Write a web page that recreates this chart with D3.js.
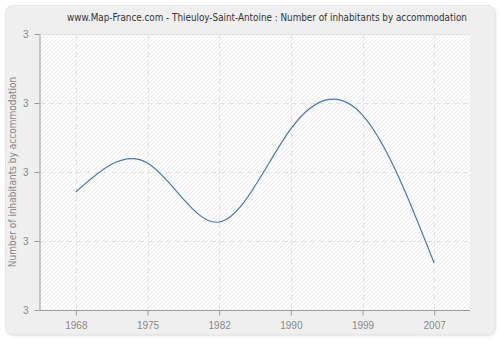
<!DOCTYPE html>
<html>
<head>
<meta charset="utf-8">
<script src="https://cdn.jsdelivr.net/npm/d3@7"></script>
<style>
  body { margin: 0; background: #fff; }
  svg { display: block; font-family: "DejaVu Sans Condensed", "DejaVu Sans", sans-serif; }
</style>
</head>
<body>
<div id="chart"></div>
<script>
const width = 500;
const height = 340;
const margin = {top: 34, right: 30, bottom: 30, left: 40};

const years = ["1968", "1975", "1982", "1990", "1999", "2007"];
const values = [2.942, 3.026, 2.855, 3.125, 3.165, 2.736];
const yTicks = [2.6, 2.8, 3.0, 3.2, 3.4];

const svg = d3.create("svg")
    .attr("width", width)
    .attr("height", height);

const defs = svg.append("defs");
const pattern = defs.append("pattern")
    .attr("id", "hatch")
    .attr("patternUnits", "userSpaceOnUse")
    .attr("width", 4)
    .attr("height", 4);
pattern.append("rect").attr("width", 4).attr("height", 4).attr("fill", "#fdfdfd");
pattern.append("path")
    .attr("d", "M-1,1 l2,-2 M0,4 l4,-4 M3,5 l2,-2")
    .attr("stroke", "#ececec")
    .attr("stroke-width", 1);

const shadow = defs.append("filter").attr("id", "shadow");
shadow.append("feDropShadow")
    .attr("dx", 1).attr("dy", 1).attr("stdDeviation", 1)
    .attr("flood-color", "#000").attr("flood-opacity", 0.12);

// panel
svg.append("rect")
    .attr("x", 5.5).attr("y", 5.5)
    .attr("width", 489).attr("height", 329)
    .attr("rx", 7)
    .attr("fill", "#efefef")
    .attr("stroke", "#e6e6e6")
    .attr("filter", "url(#shadow)");

const x = d3.scalePoint()
    .domain(years)
    .range([margin.left, width - margin.right])
    .padding(0.5);

const y = d3.scaleLinear()
    .domain([2.6, 3.4])
    .range([height - margin.bottom, margin.top]);

svg.append("rect")
    .attr("x", margin.left).attr("y", margin.top)
    .attr("width", width - margin.right - margin.left)
    .attr("height", height - margin.bottom - margin.top)
    .attr("fill", "url(#hatch)");

// grid
svg.append("g")
    .selectAll("line")
    .data(yTicks.slice(1))
    .join("line")
    .attr("x1", margin.left).attr("x2", width - margin.right)
    .attr("y1", d => Math.round(y(d)) + 0.5).attr("y2", d => Math.round(y(d)) + 0.5)
    .attr("stroke", "#e2e2e2")
    .attr("stroke-dasharray", d => d === 3.4 ? null : "5,4");

svg.append("g")
    .selectAll("line")
    .data(years)
    .join("line")
    .attr("x1", d => Math.round(x(d)) + 0.5).attr("x2", d => Math.round(x(d)) + 0.5)
    .attr("y1", margin.top).attr("y2", height - margin.bottom)
    .attr("stroke", "#e2e2e2")
    .attr("stroke-dasharray", "5,4");

// axes
const xAxis = svg.append("g")
    .attr("transform", `translate(0,${height - margin.bottom + 0.5})`)
    .call(d3.axisBottom(x).tickSize(5).tickSizeOuter(0).tickPadding(6));

const yAxis = svg.append("g")
    .attr("transform", `translate(${margin.left - 0.5},0)`)
    .call(d3.axisLeft(y).tickValues(yTicks).tickFormat(d3.format(".0f")).tickSize(5).tickSizeOuter(0).tickPadding(6));

[xAxis, yAxis].forEach(g => {
    g.select(".domain").attr("stroke", "#999");
    g.selectAll(".tick line").attr("stroke", "#999");
    g.selectAll(".tick text").attr("fill", "#888").attr("font-size", "10px");
});
xAxis.select(".domain").attr("d", `M${margin.left},0H${width - margin.right}`);

// line
const line = d3.line()
    .x((d, i) => x(years[i]))
    .y(d => y(d))
    .curve(d3.curveNatural);

svg.append("path")
    .datum(values)
    .attr("fill", "none")
    .attr("stroke", "#4a78b0")
    .attr("stroke-width", 1.2)
    .attr("d", line);

// title
svg.append("text")
    .attr("x", 267)
    .attr("y", 21)
    .attr("text-anchor", "middle")
    .attr("fill", "#333")
    .attr("font-size", "9.8px")
    .text("www.Map-France.com - Thieuloy-Saint-Antoine : Number of inhabitants by accommodation");

svg.append("text")
    .attr("transform", `translate(16,${(margin.top + height - margin.bottom) / 2}) rotate(-90)`)
    .attr("text-anchor", "middle")
    .attr("fill", "#888")
    .attr("font-size", "10px")
    .text("Number of inhabitants by accommodation");

d3.select("#chart").append(() => svg.node());
</script>
</body>
</html>
